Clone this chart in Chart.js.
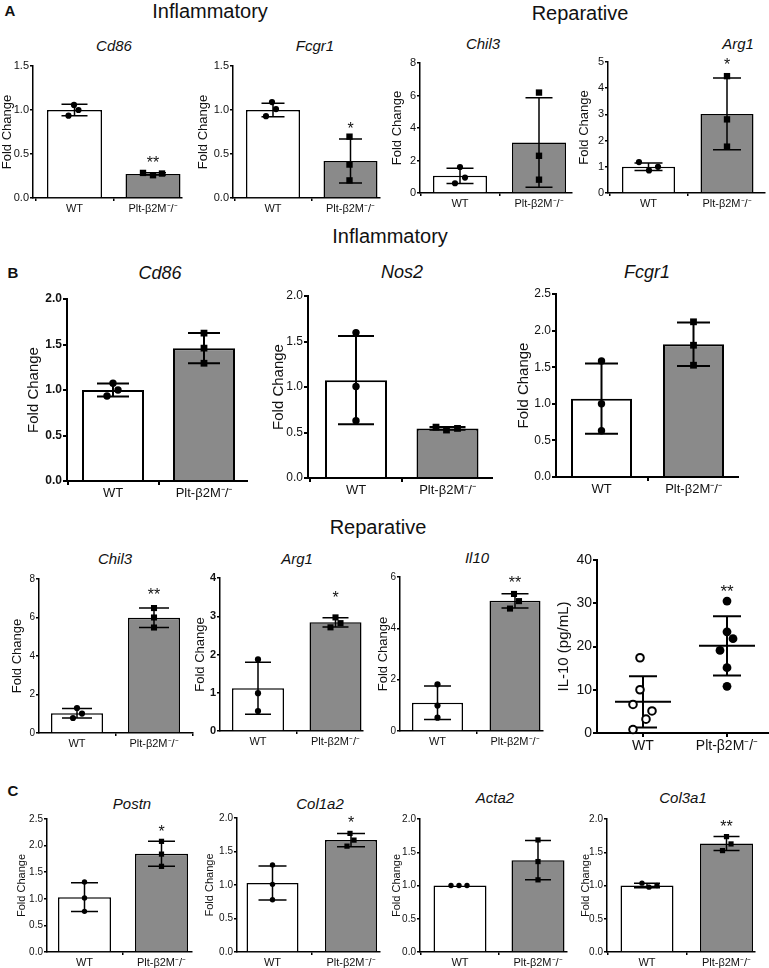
<!DOCTYPE html>
<html><head><meta charset="utf-8">
<script src="https://cdn.jsdelivr.net/npm/chart.js@4.4.0/dist/chart.umd.min.js"></script>
<style>
html,body{margin:0;padding:0;background:#fff;}
body{width:769px;height:968px;position:relative;overflow:hidden;font-family:'Liberation Sans',Arial,Helvetica,sans-serif;color:#111;}
canvas{position:absolute;}
.t{position:absolute;transform:translate(-50%,-50%);white-space:nowrap;line-height:1;}
.g{font-style:italic;}
.L{font-weight:bold;}
</style></head><body>
<script>
// ---------- DATA ----------
const groups = ['WT', 'Plt-β2M⁻/⁻'];

// Panel A (Inflammatory / Reparative)
const aCd86Mean = [1.0, 0.274], aCd86Sd = [0.066, 0.013];
const aCd86Wt = [1.058, 0.936, 1.0], aCd86Ko = [0.285, 0.259, 0.278];
const aCd86Ticks = [0, 0.5, 1.0, 1.5], aCd86Sig = ['', '**'];

const aFcgr1Mean = [1.0, 0.42], aFcgr1Sd = [0.076, 0.25];
const aFcgr1Wt = [1.09, 1.01, 0.93], aFcgr1Ko = [0.697, 0.38, 0.2];
const aFcgr1Ticks = [0, 0.5, 1.0, 1.5], aFcgr1Sig = ['', '*'];

const aChil3Mean = [1.06, 3.11], aChil3Sd = [0.47, 2.755];
const aChil3Wt = [1.6, 0.95, 0.6], aChil3Ko = [6.18, 2.29, 0.82];
const aChil3Ticks = [0, 2, 4, 6, 8], aChil3Sig = ['', ''];

const aArg1Mean = [1.0, 3.02], aArg1Sd = [0.145, 1.365];
const aArg1Wt = [1.18, 0.86, 1.0], aArg1Ko = [4.46, 2.81, 1.77];
const aArg1Ticks = [0, 1, 2, 3, 4, 5], aArg1Sig = ['', '*'];

// Panel B (Inflammatory)
const bCd86Mean = [1.0, 1.46], bCd86Sd = [0.072, 0.166];
const bCd86Wt = [1.074, 1.0, 0.934], bCd86Ko = [1.625, 1.46, 1.294];
const bCd86Ticks = [0, 0.5, 1.0, 1.5, 2.0], bCd86Sig = ['', ''];

const bNos2Mean = [1.075, 0.545], bNos2Sd = [0.485, 0.016];
const bNos2Wt = [1.598, 1.005, 0.629], bNos2Ko = [0.559, 0.527, 0.545];
const bNos2Ticks = [0, 0.5, 1.0, 1.5, 2.0], bNos2Sig = ['', ''];

const bFcgr1Mean = [1.07, 1.813], bFcgr1Sd = [0.48, 0.297];
const bFcgr1Wt = [1.586, 1.001, 0.631], bFcgr1Ko = [2.12, 1.80, 1.527];
const bFcgr1Ticks = [0, 0.5, 1.0, 1.5, 2.0, 2.5], bFcgr1Sig = ['', ''];

// Panel B (Reparative)
const bChil3Mean = [1.03, 5.99], bChil3Sd = [0.245, 0.505];
const bChil3Wt = [1.30, 1.01, 0.78], bChil3Ko = [6.49, 6.0, 5.48];
const bChil3Ticks = [0, 2, 4, 6, 8], bChil3Sig = ['', '**'];

const bArg1Mean = [1.12, 2.84], bArg1Sd = [0.68, 0.12];
const bArg1Wt = [1.87, 0.99, 0.52], bArg1Ko = [2.71, 2.97, 2.82];
const bArg1Ticks = [0, 1, 2, 3, 4], bArg1Sig = ['', '*'];

const bIl10Mean = [1.1, 5.07], bIl10Sd = [0.65, 0.28];
const bIl10Wt = [1.82, 0.99, 0.52], bIl10Ko = [5.34, 5.06, 4.77];
const bIl10Ticks = [0, 2, 4, 6], bIl10Sig = ['', '**'];

const il10Mean = [7.2, 20.15], il10Sd = [5.9, 6.85];
const il10Wt = [17.4, 10.0, 6.6, 5.1, 3.2, 0.8];
const il10Ko = [30.5, 23.4, 21.8, 19.1, 15.1, 10.8];
const il10Ticks = [0, 10, 20, 30, 40], il10Sig = ['', '**'];

// Panel C
const cPostnMean = [1.03, 1.845], cPostnSd = [0.27, 0.235];
const cPostnWt = [1.316, 1.015, 0.764], cPostnKo = [2.08, 1.84, 1.61];
const cPostnTicks = [0, 0.5, 1.0, 1.5, 2.0, 2.5], cPostnSig = ['', '*'];

const cCol1a2Mean = [1.03, 1.67], cCol1a2Sd = [0.255, 0.10];
const cCol1a2Wt = [1.30, 1.01, 0.78], cCol1a2Ko = [1.77, 1.67, 1.58];
const cCol1a2Ticks = [0, 0.5, 1.0, 1.5, 2.0], cCol1a2Sig = ['', '*'];

const cActa2Mean = [1.0, 1.38], cActa2Sd = [0, 0.295];
const cActa2Wt = [1.0, 1.0, 1.0], cActa2Ko = [1.685, 1.36, 1.085];
const cActa2Ticks = [0, 0.5, 1.0, 1.5, 2.0], cActa2Sig = ['', ''];

const cCol3a1Mean = [1.0, 1.63], cCol3a1Sd = [0.033, 0.105];
const cCol3a1Wt = [1.035, 0.975, 1.0], cCol3a1Ko = [1.735, 1.625, 1.525];
const cCol3a1Ticks = [0, 0.5, 1.0, 1.5, 2.0], cCol3a1Sig = ['', '**'];

// ---------- STYLE / LAYOUT ----------
const FONT = "'Liberation Sans', Arial, Helvetica, sans-serif";
Chart.defaults.font.family = FONT;
Chart.defaults.color = '#111';

const sA  = {ytSize:13, ytkSize:11, xtSize:11, lw:1.5, ptR:3.1, koR:4.5, tl:3, cap:13, sigSize:16, dec:1};
const sBT = {ytSize:15, ytkSize:12, xtSize:13, lw:2, ptR:3.7, koR:4.8, tl:4, cap:16, sigSize:16, dec:1};
const sBR = {ytSize:13, ytkSize:10, xtSize:11, lw:1.5, ptR:3.1, koR:4.3, tl:3, cap:14, sigSize:16, dec:0};
const sE  = {ytSize:15, ytkSize:14, xtSize:14, lw:2, ptR:3.8, koR:4.4, tl:4, cap:14, sigSize:17, dec:0};
const sC  = {ytSize:11, ytkSize:10, xtSize:11, lw:1.5, ptR:2.7, koR:3.7, tl:3, cap:13.5, sigSize:16, dec:1};

const panels = [
  Object.assign({}, sA, {mean:aCd86Mean, sd:aCd86Sd, wt:aCd86Wt, ko:aCd86Ko, ticks:aCd86Ticks, sig:aCd86Sig,
    l:33, r:182, t:66, b:198, c0:74.5, c1:153, bw:55, ylabX:8, jw:[-0.5,-6,4], jk:[-10,0,9], sigGap:13}),
  Object.assign({}, sA, {mean:aFcgr1Mean, sd:aFcgr1Sd, wt:aFcgr1Wt, ko:aFcgr1Ko, ticks:aFcgr1Ticks, sig:aFcgr1Sig,
    l:233, r:380, t:66, b:198, c0:273, c1:350.5, bw:54, ylabX:204, cap:11.5, jw:[-1,3,-7], jk:[-1,-1,-1], sigGap:11}),
  Object.assign({}, sA, {mean:aChil3Mean, sd:aChil3Sd, wt:aChil3Wt, ko:aChil3Ko, ticks:aChil3Ticks, sig:aChil3Sig, dec:0,
    l:420, r:572, t:63, b:193, c0:460, c1:539, bw:54, ylabX:398, cap:13.5, jw:[0,5,-5], jk:[0,0,0], sigGap:12}),
  Object.assign({}, sA, {mean:aArg1Mean, sd:aArg1Sd, wt:aArg1Wt, ko:aArg1Ko, ticks:aArg1Ticks, sig:aArg1Sig, dec:0,
    l:608, r:765, t:62, b:193, c0:648.5, c1:727, bw:53, ylabX:585, cap:14, jw:[-9.5,0.5,9.5], jk:[0,0,0], sigGap:14.5}),

  Object.assign({}, sBT, {mean:bCd86Mean, sd:bCd86Sd, wt:bCd86Wt, ko:bCd86Ko, ticks:bCd86Ticks, sig:bCd86Sig, bold:true,
    l:67, r:247, t:299, b:481, c0:113, c1:204, bw:62, ylabX:34, jw:[0,5,-6], jk:[0,0,0], sigGap:14}),
  Object.assign({}, sBT, {mean:bNos2Mean, sd:bNos2Sd, wt:bNos2Wt, ko:bNos2Ko, ticks:bNos2Ticks, sig:bNos2Sig,
    l:308, r:492, t:296, b:478, c0:356, c1:447.5, bw:62, ylabX:279, cap:18, jw:[0,0,0], jk:[-11.5,-1,10], sigGap:14}),
  Object.assign({}, sBT, {mean:bFcgr1Mean, sd:bFcgr1Sd, wt:bFcgr1Wt, ko:bFcgr1Ko, ticks:bFcgr1Ticks, sig:bFcgr1Sig,
    l:556, r:738, t:294, b:477, c0:601.5, c1:693.5, bw:61, ylabX:524, cap:16.5, jw:[0,0,0], jk:[0,0,0], sigGap:14}),

  Object.assign({}, sBR, {mean:bChil3Mean, sd:bChil3Sd, wt:bChil3Wt, ko:bChil3Ko, ticks:bChil3Ticks, sig:bChil3Sig,
    l:39, r:193, t:579, b:733, c0:77, c1:154, bw:52, ylabX:18, cap:15, jw:[0,5,-4], jk:[0,0,0], sigGap:16}),
  Object.assign({}, sBR, {mean:bArg1Mean, sd:bArg1Sd, wt:bArg1Wt, ko:bArg1Ko, ticks:bArg1Ticks, sig:bArg1Sig, bold:true, ytkSize:11,
    l:220, r:363, t:578, b:731, c0:258, c1:335.5, bw:52, ylabX:201, cap:13, jw:[0,0,0], jk:[-5,0,5], sigGap:22}),
  Object.assign({}, sBR, {mean:bIl10Mean, sd:bIl10Sd, wt:bIl10Wt, ko:bIl10Ko, ticks:bIl10Ticks, sig:bIl10Sig,
    l:400, r:543, t:577, b:731, c0:437.5, c1:515, bw:51, ylabX:384, cap:13.5, jw:[0,0,0], jk:[-1,4,-5], sigGap:14}),
  Object.assign({}, sE, {mean:il10Mean, sd:il10Sd, wt:il10Wt, ko:il10Ko, ticks:il10Ticks, sig:il10Sig, noBar:true, open:true,
    koStyle:'circle', meanHalf:28, ytitle:'IL-10 (pg/mL)',
    l:597, r:768, t:560, b:733, c0:643, c1:727, ylabX:564, jw:[-3,-3,-10,9,3,-10], jk:[0,0,6,-7,0,0], sigGap:13}),

  Object.assign({}, sC, {mean:cPostnMean, sd:cPostnSd, wt:cPostnWt, ko:cPostnKo, ticks:cPostnTicks, sig:cPostnSig,
    l:47, r:192, t:819, b:952, c0:84.5, c1:161.5, bw:53, ylabX:22, jw:[0,0,0], jk:[0,0,0], sigGap:12}),
  Object.assign({}, sC, {mean:cCol1a2Mean, sd:cCol1a2Sd, wt:cCol1a2Wt, ko:cCol1a2Ko, ticks:cCol1a2Ticks, sig:cCol1a2Sig,
    l:237, r:380, t:818, b:952, c0:272.5, c1:351, bw:52, ylabX:210, cap:14, jw:[0,0,0], jk:[-1,3,-4], sigGap:13.5}),
  Object.assign({}, sC, {mean:cActa2Mean, sd:cActa2Sd, wt:cActa2Wt, ko:cActa2Ko, ticks:cActa2Ticks, sig:cActa2Sig,
    l:420, r:567, t:819, b:952, c0:460, c1:538, bw:53, ylabX:397, cap:13, jw:[-9,-1,7], jk:[0,0,0], sigGap:12}),
  Object.assign({}, sC, {mean:cCol3a1Mean, sd:cCol3a1Sd, wt:cCol3a1Wt, ko:cCol3a1Ko, ticks:cCol3a1Ticks, sig:cCol3a1Sig,
    l:607, r:755, t:819, b:952, c0:647, c1:726.5, bw:53, ylabX:586, cap:13, jw:[-5,2,10], jk:[0,4.5,-4], sigGap:12.5}),
];

// Text labels (headers, panel letters, gene names)
const texts = [
  ['A', 10, 10, 15, 'L'], ['Inflammatory', 210, 11, 20, ''], ['Reparative', 580, 13, 20, ''],
  ['Cd86', 114, 45, 15, 'g'], ['Fcgr1', 315, 45, 15, 'g'], ['Chil3', 483, 43, 15, 'g'], ['Arg1', 738, 43, 15, 'g'],
  ['Inflammatory', 390, 236, 20, ''], ['B', 13, 272, 15, 'L'],
  ['Cd86', 160, 273, 18, 'g'], ['Nos2', 402, 272, 18, 'g'], ['Fcgr1', 647, 272, 18, 'g'],
  ['Reparative', 378, 527, 20, ''],
  ['Chil3', 115, 558, 15, 'g'], ['Arg1', 297, 558, 15, 'g'], ['Il10', 477, 557, 15, 'g'],
  ['C', 13, 790, 15, 'L'],
  ['Postn', 132, 803, 15, 'g'], ['Col1a2', 320, 803, 15, 'g'], ['Acta2', 495, 797, 15, 'g'], ['Col3a1', 683, 797, 15, 'g'],
];
texts.forEach(([s, x, y, size, cls]) => {
  const d = document.createElement('div');
  d.className = 't ' + cls;
  d.textContent = s;
  d.style.left = x + 'px'; d.style.top = y + 'px'; d.style.fontSize = size + 'px';
  document.body.appendChild(d);
});

function makePanel(P) {
  const lh = P.ytSize * 1.2;
  const cLeft = Math.round(P.ylabX - lh / 2);
  const padTop = 12, padRight = 36, xH = 28;
  const cTop = P.t - padTop;
  const W = Math.round(P.r - cLeft + padRight);
  const H = Math.round(P.b - cTop + xH);
  const cv = document.createElement('canvas');
  cv.width = W; cv.height = H;
  cv.style.left = cLeft + 'px'; cv.style.top = cTop + 'px';
  cv.style.width = W + 'px'; cv.style.height = H + 'px';
  document.body.appendChild(cv);

  const sp = P.c1 - P.c0;
  const xMin = -(P.c0 - P.l) / sp, xMax = 1 + (P.r - P.c1) / sp;

  const datasets = [
    {type: 'scatter', data: P.wt.map((v, k) => ({x: P.jw[k] / sp, y: v})), clip: false,
     pointStyle: 'circle', pointRadius: P.ptR, pointHoverRadius: P.ptR,
     pointBackgroundColor: P.open ? '#fff' : '#000', pointBorderColor: '#000', pointBorderWidth: P.open ? 2 : 0},
    {type: 'scatter', data: P.ko.map((v, k) => ({x: 1 + P.jk[k] / sp, y: v})), clip: false,
     pointStyle: P.koStyle || 'rect', pointRadius: P.koR, pointHoverRadius: P.koR,
     pointBackgroundColor: '#000', pointBorderColor: '#000', pointBorderWidth: 0},
  ];
  if (!P.noBar) {
    datasets.push({type: 'bar', data: P.mean.map((m, i) => ({x: i, y: m})),
      backgroundColor: ['#ffffff', '#8a8a8a'], borderColor: '#000', borderWidth: P.lw,
      borderSkipped: 'start', barPercentage: P.bw / sp, categoryPercentage: 1});
  }

  function drawErr(chart) {
    const xs = chart.scales.x, ys = chart.scales.y, ctx = chart.ctx;
    ctx.save();
    ctx.strokeStyle = '#000'; ctx.lineWidth = P.lw; ctx.lineCap = 'butt';
    for (let i = 0; i < 2; i++) {
      const x = xs.getPixelForValue(i);
      const m = P.mean[i], s = P.sd[i];
      ctx.beginPath();
      if (s > 0) {
        const hi = ys.getPixelForValue(m + s), lo = ys.getPixelForValue(m - s);
        ctx.moveTo(x, hi); ctx.lineTo(x, lo);
        ctx.moveTo(x - P.cap, hi); ctx.lineTo(x + P.cap, hi);
        ctx.moveTo(x - P.cap, lo); ctx.lineTo(x + P.cap, lo);
      }
      if (P.noBar) {
        const ym = ys.getPixelForValue(m);
        ctx.moveTo(x - P.meanHalf, ym); ctx.lineTo(x + P.meanHalf, ym);
      }
      ctx.stroke();
    }
    ctx.restore();
  }
  function drawSig(chart) {
    const xs = chart.scales.x, ys = chart.scales.y, ctx = chart.ctx;
    ctx.save();
    ctx.fillStyle = '#111';
    ctx.font = P.sigSize + 'px ' + FONT;
    ctx.textAlign = 'center'; ctx.textBaseline = 'middle';
    for (let i = 0; i < 2; i++) {
      if (!P.sig[i]) continue;
      const pts = i === 0 ? P.wt : P.ko;
      const top = Math.max(Math.max(...pts), P.mean[i] + P.sd[i]);
      const y = ys.getPixelForValue(top) - P.sigGap;
      ctx.fillText(P.sig[i], xs.getPixelForValue(i), y + 0.22 * P.sigSize);
    }
    ctx.restore();
  }
  const plug = {
    id: 'errSig',
    afterDatasetDraw(chart, args) { if (args.meta.type === 'bar') drawErr(chart); },
    beforeDatasetsDraw(chart) { if (P.noBar) drawErr(chart); },
    afterDraw(chart) { drawSig(chart); }
  };
  const axisGrid = {display: true, drawOnChartArea: false, drawTicks: true, tickLength: P.tl, color: '#000', lineWidth: P.lw};
  const axisBorder = {display: true, color: '#000', width: P.lw};

  new Chart(cv, {
    type: P.noBar ? 'scatter' : 'bar',
    data: {datasets},
    plugins: [plug],
    options: {
      responsive: false, animation: false, devicePixelRatio: 1,
      events: [],
      layout: {padding: {top: padTop, right: padRight, left: 0, bottom: 0}},
      plugins: {legend: {display: false}, tooltip: {enabled: false}, title: {display: false}},
      scales: {
        x: {type: 'linear', min: xMin, max: xMax, offset: false,
            afterBuildTicks: s => { s.ticks = [{value: 0}, {value: 1}]; },
            afterFit: s => { s.height = xH; s.paddingLeft = 0; s.paddingRight = 0; },
            grid: axisGrid, border: axisBorder,
            ticks: {autoSkip: false, maxRotation: 0, minRotation: 0, padding: 1, color: '#111',
                    font: {size: P.xtSize}, callback: (v, i) => groups[i]}},
        y: {type: 'linear', min: 0, max: P.ticks[P.ticks.length - 1],
            afterBuildTicks: s => { s.ticks = P.ticks.map(v => ({value: v})); },
            afterFit: s => { s.width = P.l - cLeft; s.paddingTop = 0; s.paddingBottom = 0; },
            grid: axisGrid, border: axisBorder,
            ticks: {autoSkip: false, padding: 1, color: '#111',
                    font: {size: P.ytkSize, weight: P.bold ? 'bold' : 'normal'},
                    callback: v => Number(v).toFixed(P.dec)},
            title: {display: true, text: P.ytitle || 'Fold Change', padding: 0, color: '#111',
                    font: {size: P.ytSize}}}
      }
    }
  });
}
panels.forEach(makePanel);
</script>
</body></html>
